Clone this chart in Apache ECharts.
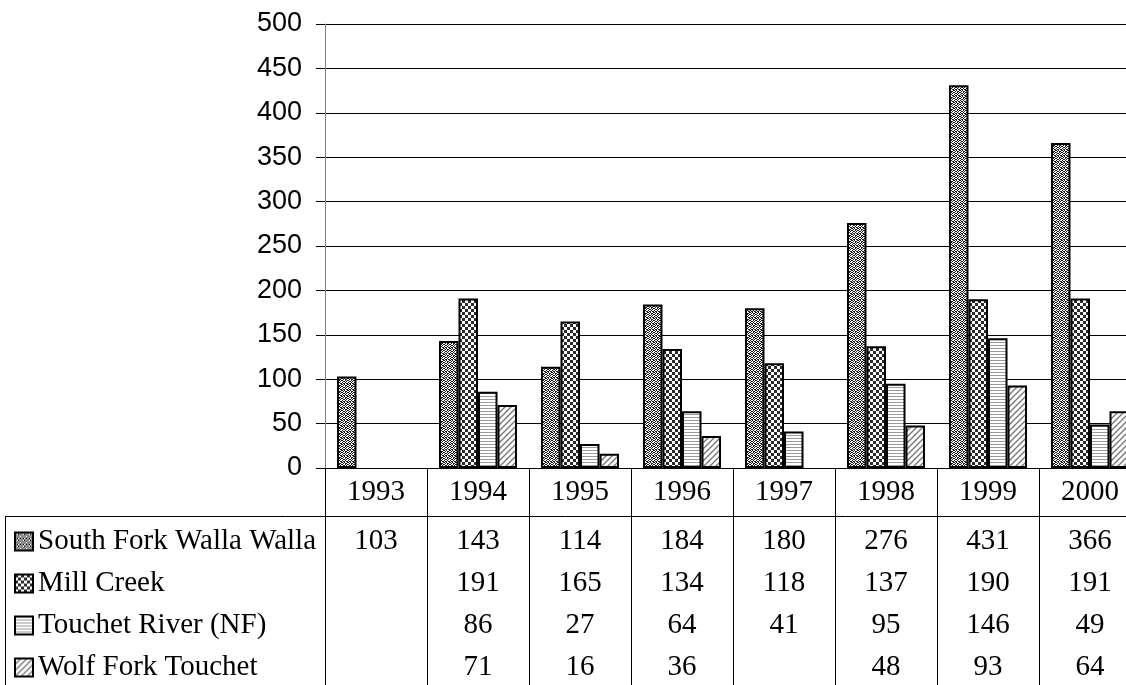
<!DOCTYPE html>
<html>
<head>
<meta charset="utf-8">
<script src="https://cdn.jsdelivr.net/npm/echarts@6/dist/echarts.min.js"></script>
<style>
html,body{margin:0;padding:0;background:#fff;}
#chart{width:1126px;height:685px;}
</style>
</head>
<body>
<div id="chart"></div>
<script>
// ---- data ----
var years = ['1993','1994','1995','1996','1997','1998','1999','2000'];
var seriesNames = ['South Fork Walla Walla','Mill Creek','Touchet River (NF)','Wolf Fork Touchet'];
var southFork = [103, 143, 114, 184, 180, 276, 431, 366];
var millCreek = [null, 191, 165, 134, 118, 137, 190, 191];
var touchetNF = [null, 86, 27, 64, 41, 95, 146, 49];
var wolfFork  = [null, 71, 16, 36, null, 48, 93, 64];
var yTicks = {min: 0, max: 500, interval: 50};

var allRows = [southFork, millCreek, touchetNF, wolfFork];

// ---- patterns ----
function makeTile(w, h, draw) {
  var c = document.createElement('canvas');
  c.width = w; c.height = h;
  var ctx = c.getContext('2d');
  ctx.fillStyle = '#fff';
  ctx.fillRect(0, 0, w, h);
  draw(ctx);
  return {image: c, repeat: 'repeat'};
}
function bitTile(bits, cell, color) {
  return makeTile(bits[0].length * cell, bits.length * cell, function (ctx) {
    ctx.fillStyle = color;
    for (var r = 0; r < bits.length; r++)
      for (var k = 0; k < bits[r].length; k++)
        if (bits[r][k]) ctx.fillRect(k * cell, r * cell, cell, cell);
  });
}
var patStipple = bitTile([
  [1,0,1,0,0,1],
  [0,1,0,1,1,0],
  [1,0,0,1,0,1],
  [0,1,1,0,1,0],
  [1,0,0,1,0,0],
  [0,1,1,0,1,1]
], 1, '#1a1a1a');
var patChecker = bitTile([[1,0],[0,1]], 3, '#2a2a2a');
var patHoriz = makeTile(4, 3, function (ctx) {
  ctx.fillStyle = '#9a9a9a';
  ctx.fillRect(0, 0, 4, 1);
});
var patDiag = makeTile(6, 6, function (ctx) {
  ctx.strokeStyle = '#7a7a7a';
  ctx.lineWidth = 1.4;
  ctx.beginPath();
  ctx.moveTo(-1, 7); ctx.lineTo(7, -1);
  ctx.moveTo(-4, 4); ctx.lineTo(4, -4);
  ctx.moveTo(2, 10); ctx.lineTo(10, 2);
  ctx.stroke();
});
var patterns = [patStipple, patChecker, patHoriz, patDiag];

// ---- chart ----
var chart = echarts.init(document.getElementById('chart'), null, {renderer: 'canvas'});

var serifFont = '"Liberation Serif", "Times New Roman", serif';
var sansFont = '"Liberation Sans", Arial, sans-serif';
var tableFontSize = 29;
var rowCenters = [541, 583, 625, 667];
var axisY = 468;

var xAxes = [{
  type: 'category',
  data: years,
  position: 'bottom',
  boundaryGap: true,
  axisLine: {show: true, lineStyle: {color: '#000', width: 1}},
  axisTick: {show: true, length: 217, lineStyle: {color: '#000', width: 1}},
  axisLabel: {margin: 10, fontFamily: serifFont, fontSize: tableFontSize, color: '#000'},
  splitLine: {show: false}
}];
allRows.forEach(function (row, ri) {
  xAxes.push({
    type: 'category',
    data: years,
    position: 'bottom',
    offset: rowCenters[ri] - axisY - 14,
    axisLine: {show: false},
    axisTick: {show: false},
    splitLine: {show: false},
    axisLabel: {
      margin: 0,
      interval: 0,
      fontFamily: serifFont, fontSize: tableFontSize, color: '#000',
      formatter: (function (r) {
        return function (v, i) { return r[i] == null ? '' : String(r[i]); };
      })(row)
    }
  });
});

var series = allRows.map(function (row, i) {
  return {
    name: seriesNames[i],
    type: 'bar',
    xAxisIndex: 0,
    data: row,
    barGap: '0%',
    barCategoryGap: '23.5%',
    itemStyle: {color: patterns[i], borderColor: '#000', borderWidth: 2},
    emphasis: {disabled: true},
    animation: false
  };
});

chart.setOption({
  animation: false,
  grid: {left: 325, right: -15, top: 24, bottom: 685 - axisY, outerBoundsMode: 'none', containLabel: false},
  legend: {
    orient: 'vertical',
    left: 14,
    top: rowCenters[0] - 14,
    padding: 0,
    itemWidth: 18,
    itemHeight: 18,
    itemGap: 13,
    icon: 'rect',
    selectedMode: false,
    data: seriesNames,
    textStyle: {fontFamily: serifFont, fontSize: tableFontSize, color: '#000', lineHeight: 29}
  },
  xAxis: xAxes,
  yAxis: {
    type: 'value',
    min: yTicks.min,
    max: yTicks.max,
    interval: yTicks.interval,
    axisLine: {show: true, lineStyle: {color: '#808080', width: 1}},
    axisTick: {show: true, length: 9, lineStyle: {color: '#000', width: 1}},
    axisLabel: {margin: 23, fontFamily: sansFont, fontSize: 27, color: '#000'},
    splitLine: {show: true, lineStyle: {color: '#000', width: 1}}
  },
  graphic: [
    {type: 'line', shape: {x1: 5, y1: 516.5, x2: 1126, y2: 516.5}, style: {stroke: '#000', lineWidth: 1}, silent: true},
    {type: 'line', shape: {x1: 5.5, y1: 516.5, x2: 5.5, y2: 685}, style: {stroke: '#000', lineWidth: 1}, silent: true}
  ],
  series: series
});
</script>
</body>
</html>
